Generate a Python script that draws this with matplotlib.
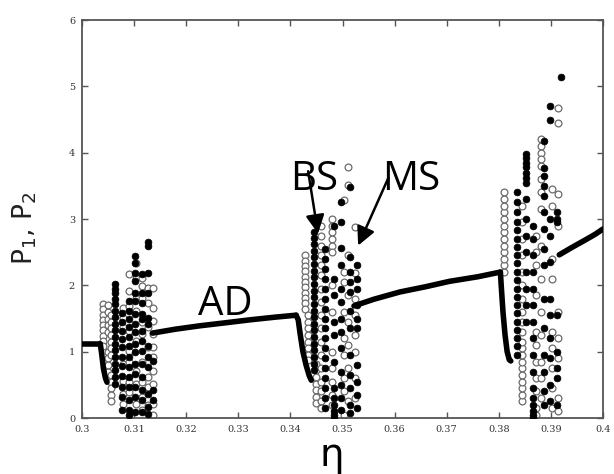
import numpy as np
import matplotlib
matplotlib.use("Agg")
import matplotlib.pyplot as plt

# ---- data ----
# amplitude-death branches (drawn as thick lines)
ad1_x = [0.3000, 0.3035]
ad1_y = [1.12, 1.12]
drop1_x = [0.3035, 0.3038, 0.3041, 0.3045, 0.3048]
drop1_y = [1.12, 0.95, 0.75, 0.60, 0.54]
ad2_x = [0.3135, 0.3180, 0.3226, 0.3280, 0.3322, 0.3370, 0.3411]
ad2_y = [1.28, 1.34, 1.39, 1.44, 1.48, 1.52, 1.55]
drop2_x = [0.3411, 0.3415, 0.3419, 0.3424, 0.3430, 0.3436, 0.3440]
drop2_y = [1.55, 1.48, 1.25, 1.00, 0.80, 0.64, 0.57]
ad3_x = [0.3522, 0.3560, 0.3610, 0.3660, 0.3705, 0.3760, 0.3803]
ad3_y = [1.69, 1.79, 1.90, 1.98, 2.06, 2.13, 2.20]
drop3_x = [0.3803, 0.3805, 0.3808, 0.3812, 0.3816, 0.3820, 0.3823]
drop3_y = [2.20, 1.95, 1.60, 1.25, 1.00, 0.88, 0.86]
ad4_x = [0.3916, 0.3940, 0.3965, 0.3985, 0.4000]
ad4_y = [2.46, 2.57, 2.68, 2.77, 2.85]

# chaotic windows: (eta, list of P values) per column
filled_cols = [
    (0.30637, [2.02, 1.95, 1.88, 1.80, 1.72, 1.62, 1.52, 1.42, 1.32, 1.22, 1.12,
               1.02, 0.92, 0.82, 0.72, 0.62, 0.52]),
    (0.30764, [1.59, 1.44, 1.315, 1.19, 1.065, 0.915, 0.79, 0.64, 0.465, 0.315, 0.115]),
    (0.30892, [1.765, 1.615, 1.49, 1.365, 1.215, 1.09, 0.915, 0.765, 0.615, 0.465,
               0.265, 0.115, 0.05]),
    (0.31019, [2.44, 2.34, 2.19, 2.065, 1.89, 1.765, 1.565, 1.415, 1.29, 1.115, 0.99,
               0.815, 0.665, 0.465, 0.315, 0.09]),
    (0.31146, [2.165, 1.89, 1.74, 1.565, 1.49, 1.315, 1.165, 1.015, 0.815, 0.615,
               0.415, 0.265, 0.09]),
    (0.31274, [2.66, 2.60, 2.19, 1.89, 1.515, 1.415, 1.09, 0.915, 0.765, 0.365, 0.165, 0.065]),
    (0.31369, [0.865, 0.415, 0.265]),
    (0.3446, [2.80, 2.72, 2.62, 2.52, 2.42, 2.32, 2.22, 2.12, 2.02, 1.92, 1.82, 1.72,
              1.62, 1.52, 1.42, 1.32, 1.22, 1.12, 1.02, 0.92, 0.82, 0.72]),
    (0.3466, [2.55, 2.40, 2.25, 2.10, 1.95, 1.80, 1.65, 1.50, 1.35, 1.20, 1.05, 0.90,
              0.75, 0.60, 0.45, 0.30, 0.15]),
    (0.3484, [2.90, 2.10, 1.85, 1.45, 1.25, 0.85, 0.45, 0.30, 0.20, 0.10, 0.05, 0.0]),
    (0.3498, [3.25, 2.95, 2.56, 2.30, 1.95, 1.75, 1.50, 1.30, 1.05, 0.70, 0.50, 0.30, 0.12]),
    (0.3514, [3.48, 2.42, 2.20, 2.05, 1.90, 1.62, 1.35, 0.95, 0.65, 0.45, 0.20, 0.08]),
    (0.3528, [2.30, 2.10, 1.95, 1.70, 1.50, 1.35, 0.80, 0.55, 0.35, 0.15]),
    (0.3834, [0.95, 1.08, 1.20, 1.33, 1.45, 1.58, 1.70, 1.83, 1.95, 2.08, 2.20, 2.33,
              2.45, 2.58, 2.70, 2.83, 2.95, 3.10, 3.25, 3.40]),
    (0.3853, [3.98, 3.92, 3.85, 3.78, 3.70, 3.62, 3.55, 3.30, 3.00, 2.75, 2.50, 2.20,
              1.95, 1.70, 1.45]),
    (0.3866, [2.90, 2.70, 2.45, 2.20, 1.95, 1.70, 1.45, 1.20, 0.95, 0.70, 0.45, 0.30,
              0.20, 0.10, 0.05, 0.0]),
    (0.3887, [4.18, 3.77, 3.65, 3.50, 3.35, 3.10, 2.85, 2.55, 2.30, 1.80, 1.35, 0.95,
              0.70, 0.40, 0.20]),
    (0.3898, [4.71, 4.50, 3.00, 2.75, 2.35, 1.80, 1.55, 1.20, 0.90, 0.50, 0.25]),
    (0.3912, [3.10, 3.00, 2.95, 1.55, 1.00, 0.75, 0.60, 0.20]),
    (0.3919, [5.14]),
]
open_cols = [
    (0.3040, [1.72, 1.64, 1.56, 1.48, 1.40, 1.32, 1.24, 1.16, 1.08]),
    (0.3049, [1.70, 1.60, 1.50, 1.40, 1.30, 1.00, 0.90, 0.80, 0.70]),
    (0.3056, [1.55, 1.45, 1.35, 1.25, 1.15, 1.05, 0.95, 0.65, 0.55, 0.45, 0.35, 0.25]),
    (0.30780, [1.665, 1.515, 1.365, 0.815, 0.565, 0.365, 0.215]),
    (0.30905, [2.165, 1.915, 1.69, 1.315, 1.015, 0.84, 0.54, 0.39]),
    (0.31035, [2.34, 2.115, 1.815, 1.615, 1.165, 0.715, 0.515, 0.215]),
    (0.31160, [2.115, 1.99, 1.815, 1.44, 1.265, 0.84, 0.54, 0.315, 0.115]),
    (0.31260, [1.965, 1.74, 1.365, 1.065, 0.615, 0.465, 0.19]),
    (0.31369, [1.965, 1.665, 1.465, 1.265, 1.065, 0.915, 0.715, 0.515, 0.215, 0.04]),
    (0.3428, [2.45, 2.37, 2.29, 2.21, 2.13, 2.05, 1.97, 1.89, 1.81, 1.73, 1.65]),
    (0.3434, [1.55, 1.45, 1.35, 1.25, 1.15, 1.05, 0.95, 0.87]),
    (0.3450, [0.82, 0.72, 0.62, 0.52, 0.42, 0.32, 0.22]),
    (0.3458, [2.90, 2.75, 2.60, 2.45, 2.30, 2.15, 1.95, 1.75, 1.55, 1.35, 1.15, 0.95,
              0.75, 0.55, 0.40, 0.25, 0.15]),
    (0.3480, [3.00, 2.90, 2.80, 2.70, 2.60, 2.50, 2.00, 1.60, 1.00, 0.75, 0.55, 0.35, 0.20]),
    (0.3503, [3.28, 2.20, 2.05, 1.60, 1.20, 0.95, 0.60, 0.40, 0.05]),
    (0.3511, [3.79, 3.52, 2.45, 1.85, 1.45, 1.10, 0.75, 0.25]),
    (0.3524, [2.88, 2.19, 1.80, 1.55, 1.25, 1.00, 0.60, 0.30]),
    (0.3810, [2.20, 2.30, 2.40, 2.50, 2.60, 2.70, 2.80, 2.90, 3.00, 3.10, 3.20, 3.30, 3.40]),
    (0.3844, [0.25, 0.35, 0.45, 0.55, 0.65, 0.75, 0.85, 0.95, 1.05, 1.15, 1.30, 1.45,
              1.60, 1.80, 2.00, 2.20, 2.45, 2.70, 2.95, 3.20]),
    (0.3872, [2.75, 2.50, 2.30, 1.85, 1.30, 1.10, 0.85, 0.60, 0.40, 0.15, 0.05]),
    (0.3881, [4.20, 4.10, 4.00, 3.90, 3.80, 3.60, 3.40, 3.15, 2.60, 2.10, 1.60, 1.25,
              0.85, 0.60, 0.30]),
    (0.3903, [3.45, 3.20, 2.40, 2.10, 1.30, 1.05, 0.75, 0.45, 0.15]),
    (0.3914, [4.68, 4.45, 3.38, 2.90, 1.60, 1.20, 0.90, 0.30, 0.10]),
]

x_ticks = [0.3, 0.31, 0.32, 0.33, 0.34, 0.35, 0.36, 0.37, 0.38, 0.39, 0.4]
x_ticklabels = ["0.3", "0.31", "0.32", "0.33", "0.34", "0.35", "0.36", "0.37", "0.38", "0.39", "0.4"]
y_ticks = [0, 1, 2, 3, 4, 5, 6]

# ---- figure ----
fig = plt.figure(figsize=(6.14, 4.74), dpi=100)
ax = fig.add_axes([0.1336, 0.1181, 0.8485, 0.8397])

for xs, ys in [(ad1_x, ad1_y), (drop1_x, drop1_y), (ad2_x, ad2_y), (drop2_x, drop2_y),
               (ad3_x, ad3_y), (drop3_x, drop3_y), (ad4_x, ad4_y)]:
    ax.plot(xs, ys, color="black", lw=4, solid_capstyle="round", zorder=3)

ox = np.concatenate([[c[0]] * len(c[1]) for c in open_cols])
oy = np.concatenate([c[1] for c in open_cols])
fx = np.concatenate([[c[0]] * len(c[1]) for c in filled_cols])
fy = np.concatenate([c[1] for c in filled_cols])
ax.scatter(ox, oy, s=24, facecolors="white", edgecolors="#6a6a6a", linewidths=0.9, zorder=2)
ax.scatter(fx, fy, s=24, color="black", edgecolors="black", linewidths=0.5, zorder=4)

ax.set_xlim(0.3, 0.4)
ax.set_ylim(0, 6)
ax.set_xticks(x_ticks)
ax.set_xticklabels(x_ticklabels)
ax.set_yticks(y_ticks)
ax.tick_params(direction="in", length=4, width=1, colors="#555555", labelsize=7,
               top=True, right=True, labelcolor="#333333", pad=5)
for lab in ax.get_xticklabels() + ax.get_yticklabels():
    lab.set_family("DejaVu Serif")
for sp in ax.spines.values():
    sp.set_color("#555555")
    sp.set_linewidth(1.3)

# annotations
lbl_font = ["Open Sans", "Lato"]
ax.text(0.32745, 1.55, "AD", fontsize=29, family=lbl_font, ha="center", va="baseline", zorder=5)
ax.text(0.3445, 3.44, "BS", fontsize=29, family=lbl_font, ha="center", va="baseline", zorder=5)
ax.text(0.3632, 3.44, "MS", fontsize=29, family=lbl_font, ha="center", va="baseline", zorder=5)
ax.annotate("", xy=(0.3453, 2.78), xytext=(0.3434, 3.72),
            arrowprops=dict(arrowstyle="-|>", lw=1.8, color="black", mutation_scale=28,
                            shrinkA=0, shrinkB=0), zorder=6)
ax.annotate("", xy=(0.3530, 2.60), xytext=(0.3588, 3.62),
            arrowprops=dict(arrowstyle="-|>", lw=1.8, color="black", mutation_scale=28,
                            shrinkA=0, shrinkB=0), zorder=6)

fig.text(332 / 614, 1 - 455 / 474, "η", fontsize=28, ha="center", va="center")
fig.text(25 / 614, 1 - 228 / 474, "P$_1$, P$_2$", fontsize=19, rotation=90,
         ha="center", va="center", color="#222222")

fig.savefig("out.png", dpi=100)
